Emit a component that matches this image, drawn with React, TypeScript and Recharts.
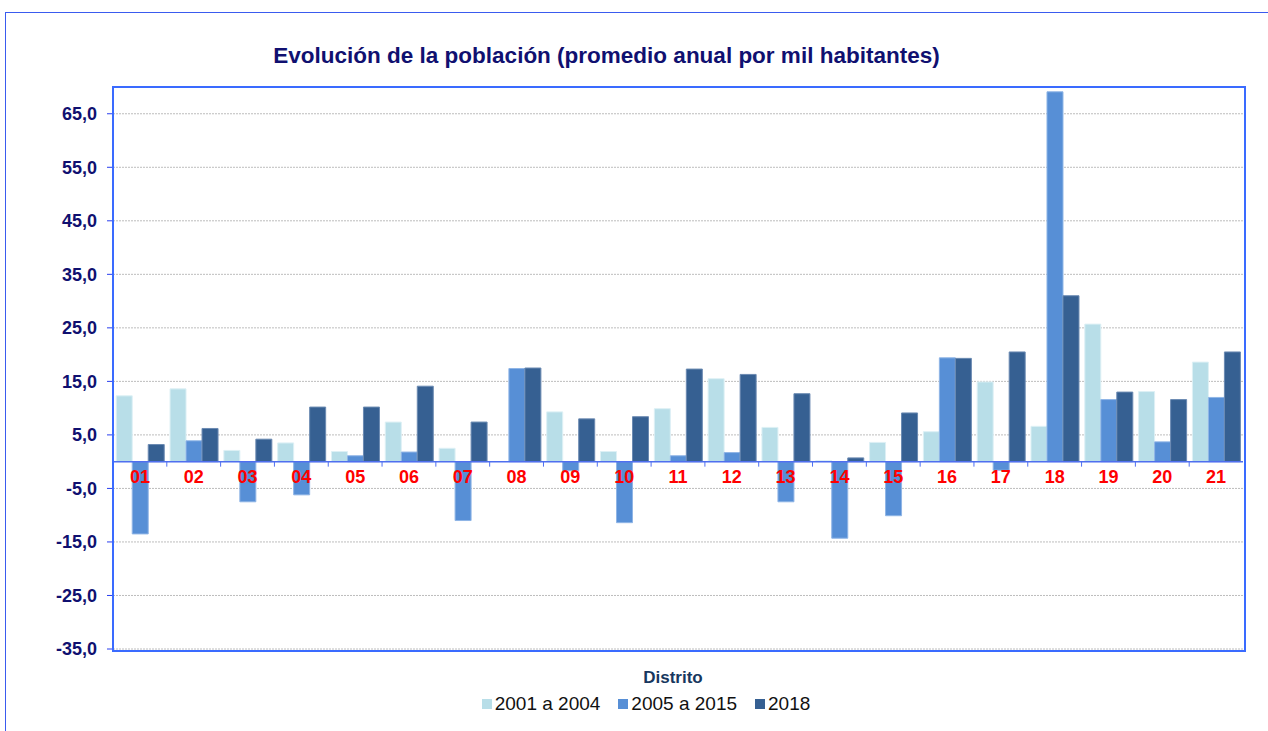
import React from "react";
import {
  BarChart,
  Bar,
  XAxis,
  YAxis,
  CartesianGrid,
  ReferenceLine,
} from "recharts";

const districts = ["01", "02", "03", "04", "05", "06", "07", "08", "09", "10", "11", "12", "13", "14", "15", "16", "17", "18", "19", "20", "21"];
const serie2001a2004 = [12.3, 13.6, 2.1, 3.5, 1.9, 7.4, 2.5, 0, 9.3, 1.9, 9.9, 15.5, 6.4, 0.2, 3.6, 5.6, 14.9, 6.6, 25.7, 13.1, 18.6];
const serie2005a2015 = [-13.5, 3.9, -7.5, -6.2, 1.1, 1.8, -11.0, 17.4, -1.7, -11.4, 1.1, 1.7, -7.5, -14.3, -10.1, 19.4, -1.6, 69.1, 11.6, 3.7, 12.0];
const serie2018 = [3.2, 6.2, 4.2, 10.2, 10.2, 14.1, 7.4, 17.5, 8.0, 8.4, 17.3, 16.3, 12.7, 0.7, 9.1, 19.3, 20.5, 31.0, 13.0, 11.6, 20.5];
const yTicks = [-35, -25, -15, -5, 5, 15, 25, 35, 45, 55, 65];

const series = [
  { key: "a", name: "2001 a 2004", fill: "#B8DEE8", stroke: "#DDF0F5" },
  { key: "b", name: "2005 a 2015", fill: "#578FD6", stroke: "#8FB5E6" },
  { key: "c", name: "2018", fill: "#366092", stroke: "#6B8AB2" },
];

const data = districts.map((d, i) => ({
  distrito: d,
  a: serie2001a2004[i],
  b: serie2005a2015[i],
  c: serie2018[i],
}));

const W = 1268;
const H = 731;
const M = { top: 87, right: 25, bottom: 81, left: 0 };
const Y_AXIS_W = 113;
const Y_MIN = -35;
const Y_MAX = 70;
const PLOT_H = H - M.top - M.bottom - 1;
const PLOT_W = W - M.left - M.right - Y_AXIS_W;
const ZERO_Y = M.top + (PLOT_H * Y_MAX) / (Y_MAX - Y_MIN);
const BAND = PLOT_W / districts.length;

const NAVY = "#101070";
const FONT = "Liberation Sans, Arial, sans-serif";

// etiqueta del distrito, pegada a la línea del cero
function DistrictTick(props: any) {
  const { x, payload } = props;
  return (
    <g>
      <line x1={x - BAND / 2} x2={x - BAND / 2} y1={ZERO_Y} y2={ZERO_Y + 5} stroke="#4F6FEF" strokeWidth={1} />
      <text
        x={x}
        y={ZERO_Y + 21}
        textAnchor="middle"
        fontSize={18}
        fontWeight="bold"
        fill="#FF0000"
        fontFamily={FONT}
      >
        {payload.value}
      </text>
    </g>
  );
}

export default function App() {
  return (
    <div style={{ position: "absolute", left: 0, top: 0, width: W, height: H, background: "#fff", fontFamily: FONT, overflow: "hidden" }}>
      <div style={{ position: "absolute", left: 5, top: 12, width: W, height: H, borderTop: "1.5px solid #3A5BEF", borderLeft: "1px solid #3A5BEF" }} />
      <div
        style={{
          position: "absolute",
          left: 0,
          top: 43,
          width: 1213,
          textAlign: "center",
          fontSize: 22.5,
          fontWeight: "bold",
          color: NAVY,
        }}
      >
        Evolución de la población (promedio anual por mil habitantes)
      </div>
      <div style={{ position: "absolute", left: 0, top: 0 }}>
        <BarChart
          width={W}
          height={H}
          data={data}
          margin={M}
          barCategoryGap="6%"
          barGap={0}
        >
          <CartesianGrid vertical={false} stroke="#BDBDBD" strokeDasharray="2 1" />
          <XAxis
            dataKey="distrito"
            axisLine={false}
            tickLine={false}
            tick={(p: any) => <DistrictTick {...p} />}
            interval={0}
            height={1}
          />
          <YAxis
            width={Y_AXIS_W}
            domain={[Y_MIN, Y_MAX]}
            ticks={yTicks}
            interval={0}
            axisLine={false}
            tickLine={{ stroke: "#2A3FEF" }}
            tickSize={6}
            tickMargin={10}
            tickFormatter={(v: number) => v.toFixed(1).replace(".", ",")}
            tick={{ fill: NAVY, fontSize: 18, fontWeight: "bold", dy: 0, fontFamily: FONT }}
            allowDataOverflow
          />
          {series.map((s) => (
            <Bar key={s.key} dataKey={s.key} name={s.name} fill={s.fill} stroke={s.stroke} strokeWidth={1} isAnimationActive={false} />
          ))}
          <ReferenceLine y={0} stroke="#4F6FEF" strokeWidth={1.5} />
        </BarChart>
      </div>
      <div
        style={{
          position: "absolute",
          left: 112,
          top: 86,
          width: 1130,
          height: 562,
          border: "2px solid #3A6BFF",
          pointerEvents: "none",
        }}
      />
      <div
        style={{
          position: "absolute",
          left: 0,
          top: 668,
          width: 1346,
          textAlign: "center",
          fontSize: 17,
          fontWeight: "bold",
          color: "#17375E",
        }}
      >
        Distrito
      </div>
      <div
        style={{
          position: "absolute",
          left: 0,
          top: 693,
          width: 1292,
          display: "flex",
          justifyContent: "center",
          fontSize: 19,
          color: "#111",
        }}
      >
        {series.map((s) => (
          <div key={s.key} style={{ display: "flex", alignItems: "center", margin: "0 9px" }}>
            <span style={{ display: "inline-block", width: 10, height: 10, background: s.fill, marginRight: 3 }} />
            <span>{s.name}</span>
          </div>
        ))}
      </div>
    </div>
  );
}
